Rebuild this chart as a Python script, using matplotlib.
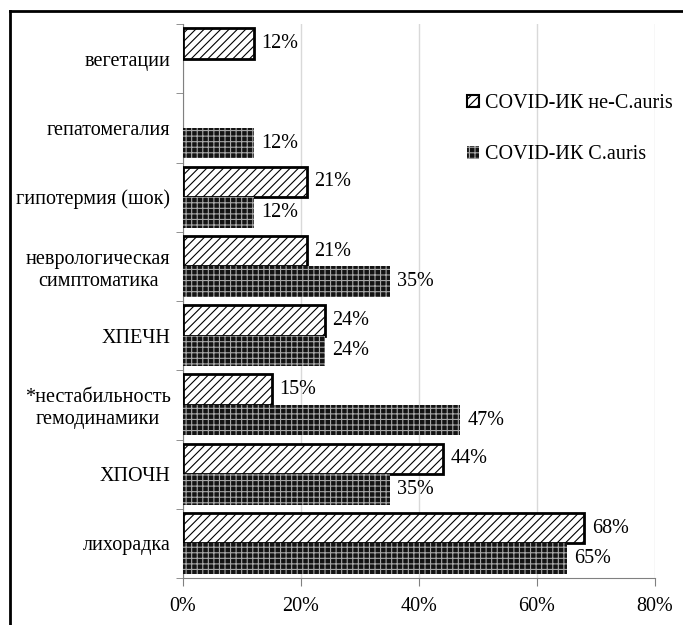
import matplotlib
matplotlib.use("Agg")
import matplotlib.pyplot as plt
from matplotlib.lines import Line2D
from matplotlib.patches import Patch
import numpy as np

categories = ['вегетации', 'гепатомегалия', 'гипотермия (шок)',
              'неврологическая\nсимптоматика', 'ХПЕЧН',
              '*нестабильность\nгемодинамики', 'ХПОЧН', 'лихорадка']
non_auris = [12, 0, 21, 21, 24, 15, 44, 68]
auris = [0, 12, 12, 35, 24, 47, 35, 65]
series_names = ['COVID-ИК не-C.auris', 'COVID-ИК C.auris']
xticks = [0, 20, 40, 60, 80]

plt.rcParams['font.family'] = ['Liberation Serif', 'DejaVu Serif']
plt.rcParams['hatch.linewidth'] = 0.8
FS = 14.5

fig = plt.figure(figsize=(6.83, 6.25), dpi=100)
ax = fig.add_axes([183/683, 1-578/625, (655-183)/683, (578-24)/625])

n = len(categories)
y = np.arange(n)[::-1].astype(float)
h = 0.44

style1 = dict(facecolor='white', edgecolor='black', linewidth=2, hatch='////')
style2 = dict(facecolor='#141414', edgecolor='#a8a8a8', linewidth=0, hatch='+++')

b1 = ax.barh(y + h/2, non_auris, height=h, zorder=3, **style1)
for p, v in zip(b1.patches, non_auris):
    if v == 0:
        p.set_visible(False)
b2 = ax.barh(y - h/2, auris, height=h, zorder=3, **style2)
for p, v in zip(b2.patches, auris):
    if v == 0:
        p.set_visible(False)

for yy, v in zip(y + h/2, non_auris):
    if v > 0:
        ax.text(v + 1.3, yy, f'{v}%', va='center', ha='left', fontsize=FS)
for yy, v in zip(y - h/2, auris):
    if v > 0:
        ax.text(v + 1.3, yy, f'{v}%', va='center', ha='left', fontsize=FS)

ax.set_xlim(0, 80)
ax.set_ylim(-0.5, n - 0.5)
ax.set_xticks(xticks)
ax.set_xticklabels([f'{t}%' for t in xticks], fontsize=FS)
ax.set_yticks(y)
ax.set_yticklabels(categories, fontsize=FS, multialignment='center')
ax.set_yticks(np.arange(n + 1) - 0.5, minor=True)
ax.tick_params(axis='y', which='major', length=0, pad=9)
ax.tick_params(axis='y', which='minor', length=5, color='#808080')
ax.tick_params(axis='x', length=6, color='#808080', pad=8)
ax.grid(axis='x', color='#d9d9d9', linewidth=1, zorder=0)
ax.set_axisbelow(True)
for s in ['top', 'right']:
    ax.spines[s].set_visible(False)
ax.spines['left'].set_color('#808080')
ax.spines['bottom'].set_color('#808080')

handles = [Patch(label=series_names[0], **dict(style1, linewidth=1.5)),
           Patch(label=series_names[1], **style2)]
leg = ax.legend(handles=handles, loc='upper left', bbox_to_anchor=(0.585, 0.888),
                frameon=False, fontsize=FS, handlelength=0.6, handleheight=0.6,
                handletextpad=0.3, labelspacing=1.6, borderaxespad=0)

fig.add_artist(Line2D([10/683, 10/683], [0, 1-11/625], color='black', linewidth=2,
                      transform=fig.transFigure))
fig.add_artist(Line2D([10/683, 1], [1-11/625, 1-11/625], color='black', linewidth=2,
                      transform=fig.transFigure))

fig.savefig('out.png', dpi=100)
